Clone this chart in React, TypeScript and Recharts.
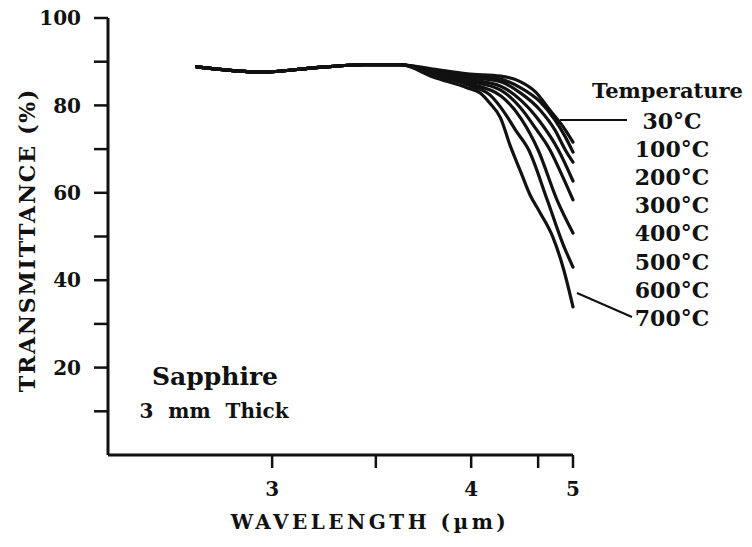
import { LineChart, Line, XAxis, YAxis } from 'recharts';

// wavelength (µm) / transmittance (%)
const FLAT: [number, number][] = [
  [2.77, 88.8], [2.97, 87.6], [3.2, 88.6], [3.44, 89.3], [3.63, 89.3],
];
const C30: [number, number][] = [
  [3.8, 88.3], [3.98, 87.2], [4.22, 86.7], [4.37, 85.4], [4.48, 83.1], [4.67, 78.9], [4.86, 75.1], [5, 71.6],
];
const C100: [number, number][] = [
  [3.8, 88.1], [3.98, 86.9], [4.22, 86.0], [4.37, 84.0], [4.53, 80.8], [4.74, 76.7], [4.89, 72.8], [5, 69.3],
];
const C200: [number, number][] = [
  [3.8, 87.9], [3.98, 86.5], [4.22, 85.4], [4.37, 82.8], [4.53, 78.9], [4.74, 74.4], [4.89, 69.8], [5, 67.0],
];
const C300: [number, number][] = [
  [3.8, 87.6], [3.98, 86.0], [4.22, 84.4], [4.37, 81.2], [4.53, 76.2], [4.79, 69.8], [5, 62.7],
];
const C400: [number, number][] = [
  [3.8, 87.4], [3.98, 85.6], [4.22, 83.5], [4.37, 79.4], [4.48, 74.8], [4.67, 69.8], [4.84, 64.1], [5, 58.4],
];
const C500: [number, number][] = [
  [3.8, 87.2], [3.98, 85.1], [4.22, 82.2], [4.37, 77.1], [4.5, 69.8], [4.77, 58.4], [5, 50.8],
];
const C600: [number, number][] = [
  [3.8, 87.0], [3.98, 84.7], [4.14, 82.4], [4.25, 78.3], [4.33, 74.4], [4.43, 69.8], [4.63, 58.4], [4.86, 48.1], [5, 43.0],
];
const C700: [number, number][] = [
  [3.8, 86.5], [3.98, 84.0], [4.07, 82.8], [4.14, 80.5], [4.22, 77.1], [4.29, 70.9], [4.37, 64.8],
  [4.44, 59.5], [4.53, 55.4], [4.71, 49.9], [4.86, 42.8], [5, 33.9],
];

const TEMPS = ['30°C', '100°C', '200°C', '300°C', '400°C', '500°C', '600°C', '700°C'];
const CURVES = [C30, C100, C200, C300, C400, C500, C600, C700];

const X_TICKS = [3, 3.5, 4, 4.5, 5];
const Y_TICKS = [10, 20, 30, 40, 50, 60, 70, 80, 90, 100];

// the hand-drawn wavelength axis is not evenly spaced: piecewise scale
const AXIS_WL = [2.5, 3, 3.5, 4, 4.5, 5];
const AXIS_FRAC = [0, 0.353, 0.576, 0.781, 0.925, 1];

function axisFrac(v: number): number {
  let i = 0;
  while (i < AXIS_WL.length - 2 && v > AXIS_WL[i + 1]) i++;
  const t = (v - AXIS_WL[i]) / (AXIS_WL[i + 1] - AXIS_WL[i]);
  return AXIS_FRAC[i] + t * (AXIS_FRAC[i + 1] - AXIS_FRAC[i]);
}

function waveScale(): any {
  let dom = [2.5, 5];
  let rng = [0, 1];
  const s: any = (v: number) => {
    const a = axisFrac(dom[0]);
    const b = axisFrac(dom[1]);
    const t = (axisFrac(Number(v)) - a) / (b - a);
    return rng[0] + t * (rng[1] - rng[0]);
  };
  s.domain = (d?: number[]) => {
    if (d === undefined) return dom.slice();
    dom = d.map(Number);
    return s;
  };
  s.range = (r?: number[]) => {
    if (r === undefined) return rng.slice();
    rng = r.slice();
    return s;
  };
  s.copy = () => waveScale().domain(dom).range(rng);
  s.ticks = () => X_TICKS;
  return s;
}

const FONT = '"DejaVu Serif", serif';
const INK = '#111';

const series = CURVES.map((tail, i) => ({
  name: TEMPS[i],
  data: [...FLAT, ...tail].map(([wl, t]) => ({ wl, t })),
}));

export default function App(): JSX.Element {
  return (
    <div style={{ position: 'relative', width: 752, height: 547, margin: -8, background: '#fff' }}>
      <LineChart width={752} height={547} margin={{ top: 18, right: 179, bottom: 52, left: 48 }}>
        <XAxis
          type="number"
          dataKey="wl"
          domain={[2.5, 5]}
          scale={waveScale()}
          ticks={X_TICKS}
          interval={0}
          height={40}
          tickSize={13}
          tickMargin={14}
          tickFormatter={(v: number) => (Number.isInteger(v) ? String(v) : '')}
          tick={{ fill: INK, fontSize: 20, fontWeight: 700, fontFamily: FONT }}
          tickLine={{ stroke: INK, strokeWidth: 2.5 }}
          axisLine={{ stroke: INK, strokeWidth: 3 }}
        />
        <YAxis
          type="number"
          domain={[0, 100]}
          ticks={Y_TICKS}
          interval={0}
          width={60}
          tickSize={14}
          tickMargin={13}
          tickFormatter={(v: number) => (v % 20 === 0 ? String(v) : '')}
          tick={{ fill: INK, fontSize: 20, fontWeight: 700, fontFamily: FONT }}
          tickLine={{ stroke: INK, strokeWidth: 2.5 }}
          axisLine={{ stroke: INK, strokeWidth: 3 }}
        />
        {series.map((s) => (
          <Line
            key={s.name}
            name={s.name}
            data={s.data}
            dataKey="t"
            type="monotone"
            stroke={INK}
            strokeWidth={3.2}
            strokeLinecap="round"
            dot={false}
            activeDot={false}
            isAnimationActive={false}
          />
        ))}
      </LineChart>
      <svg
        width={752}
        height={547}
        style={{ position: 'absolute', left: 0, top: 0, pointerEvents: 'none' }}
        fontFamily={FONT}
        fontWeight={700}
        fill={INK}
      >
        <text
          x={27}
          y={240}
          transform="rotate(-90 27 240)"
          textAnchor="middle"
          dominantBaseline="central"
          fontSize={22}
          letterSpacing={1.8}
        >
          TRANSMITTANCE (%)
        </text>
        <text x={370} y={529} textAnchor="middle" fontSize={20} letterSpacing={3.5}>
          WAVELENGTH (µm)
        </text>
        <text x={592} y={98} fontSize={21}>Temperature</text>
        {TEMPS.map((t, i) => (
          <text key={t} x={672} y={129 + i * 28.1} textAnchor="middle" fontSize={22}>
            {t}
          </text>
        ))}
        <line x1={560} y1={120} x2={627} y2={120} stroke={INK} strokeWidth={2} />
        <line x1={577} y1={293} x2={632} y2={317} stroke={INK} strokeWidth={2} />
        <text x={215} y={385} textAnchor="middle" fontSize={25}>Sapphire</text>
        <text x={214} y={418} textAnchor="middle" fontSize={20} wordSpacing={8}>
          3 mm Thick
        </text>
      </svg>
    </div>
  );
}
